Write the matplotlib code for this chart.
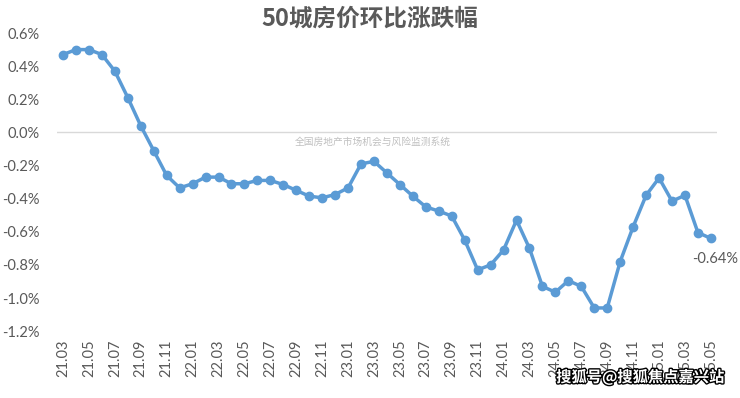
import numpy as np
import matplotlib
matplotlib.use('Agg')
import matplotlib.pyplot as plt
import matplotlib.patheffects as pe

# 月份 21.03 - 25.05
months = []
for y in range(21, 26):
    for m in range(1, 13):
        if (y == 21 and m < 3) or (y == 25 and m > 5):
            continue
        months.append('%02d.%02d' % (y, m))

values = [0.47, 0.50, 0.50, 0.47, 0.37, 0.21, 0.04, -0.11, -0.26, -0.335,
          -0.31, -0.27, -0.27, -0.31, -0.31, -0.29, -0.29, -0.315, -0.35, -0.385, -0.395, -0.375,
          -0.335, -0.19, -0.175, -0.245, -0.315, -0.385, -0.45, -0.475, -0.505, -0.65, -0.83, -0.80,
          -0.71, -0.53, -0.70, -0.93, -0.965, -0.895, -0.93, -1.06, -1.06, -0.78, -0.57, -0.38,
          -0.275, -0.415, -0.38, -0.605, -0.64]

yticks = [0.6, 0.4, 0.2, 0.0, -0.2, -0.4, -0.6, -0.8, -1.0, -1.2]

gray = '#595959'
blue = '#5B9BD5'
num_font = ['Lato', 'DejaVu Sans']
cjk_font = ['Noto Sans CJK SC', 'DejaVu Sans']

fig = plt.figure(figsize=(7.4, 3.98), dpi=100)
ax = fig.add_axes([0.0764, 0.168, 0.893, 0.749])

x = np.arange(len(values))
ax.axhline(0, color='#d9d9d9', lw=1, zorder=1)
ax.plot(x, values, color=blue, lw=2.5, marker='o', markersize=6, zorder=3, clip_on=False)

ax.set_xlim(-0.5, len(values) - 0.5)
ax.set_ylim(-1.2, 0.6)
ax.set_yticks(yticks)
ax.set_yticklabels(['%.1f%%' % v for v in yticks], fontfamily=num_font, fontsize=10.5, color=gray)
ax.set_xticks(x[::2])
ax.set_xticklabels(months[::2], rotation=90, fontfamily=num_font, fontsize=10.5, color=gray)
ax.tick_params(length=0, pad=6)
ax.tick_params(axis='y', pad=12)
for s in ax.spines.values():
    s.set_visible(False)

ax.annotate('%.2f%%' % values[-1], xy=(x[-1], values[-1]), xytext=(3, -15),
            textcoords='offset points', ha='center', va='center',
            fontfamily=num_font, fontsize=10.5, color=gray)

fig.text(0.5, 0.952, '50城房价环比涨跌幅', ha='center', va='center',
         fontfamily=cjk_font, fontsize=17, fontweight='bold', color=gray)
fig.text(0.504, 0.643, '全国房地产市场机会与风险监测系统', ha='center', va='center',
         fontfamily=cjk_font, fontsize=7, color='#c0c0c0')
fig.text(0.865, 0.052, '搜狐号@搜狐焦点嘉兴站', ha='center', va='center',
         fontfamily=cjk_font, fontsize=11, color='white', fontweight='bold',
         path_effects=[pe.withStroke(linewidth=2, foreground='black')])

fig.savefig('out.png', dpi=100)
